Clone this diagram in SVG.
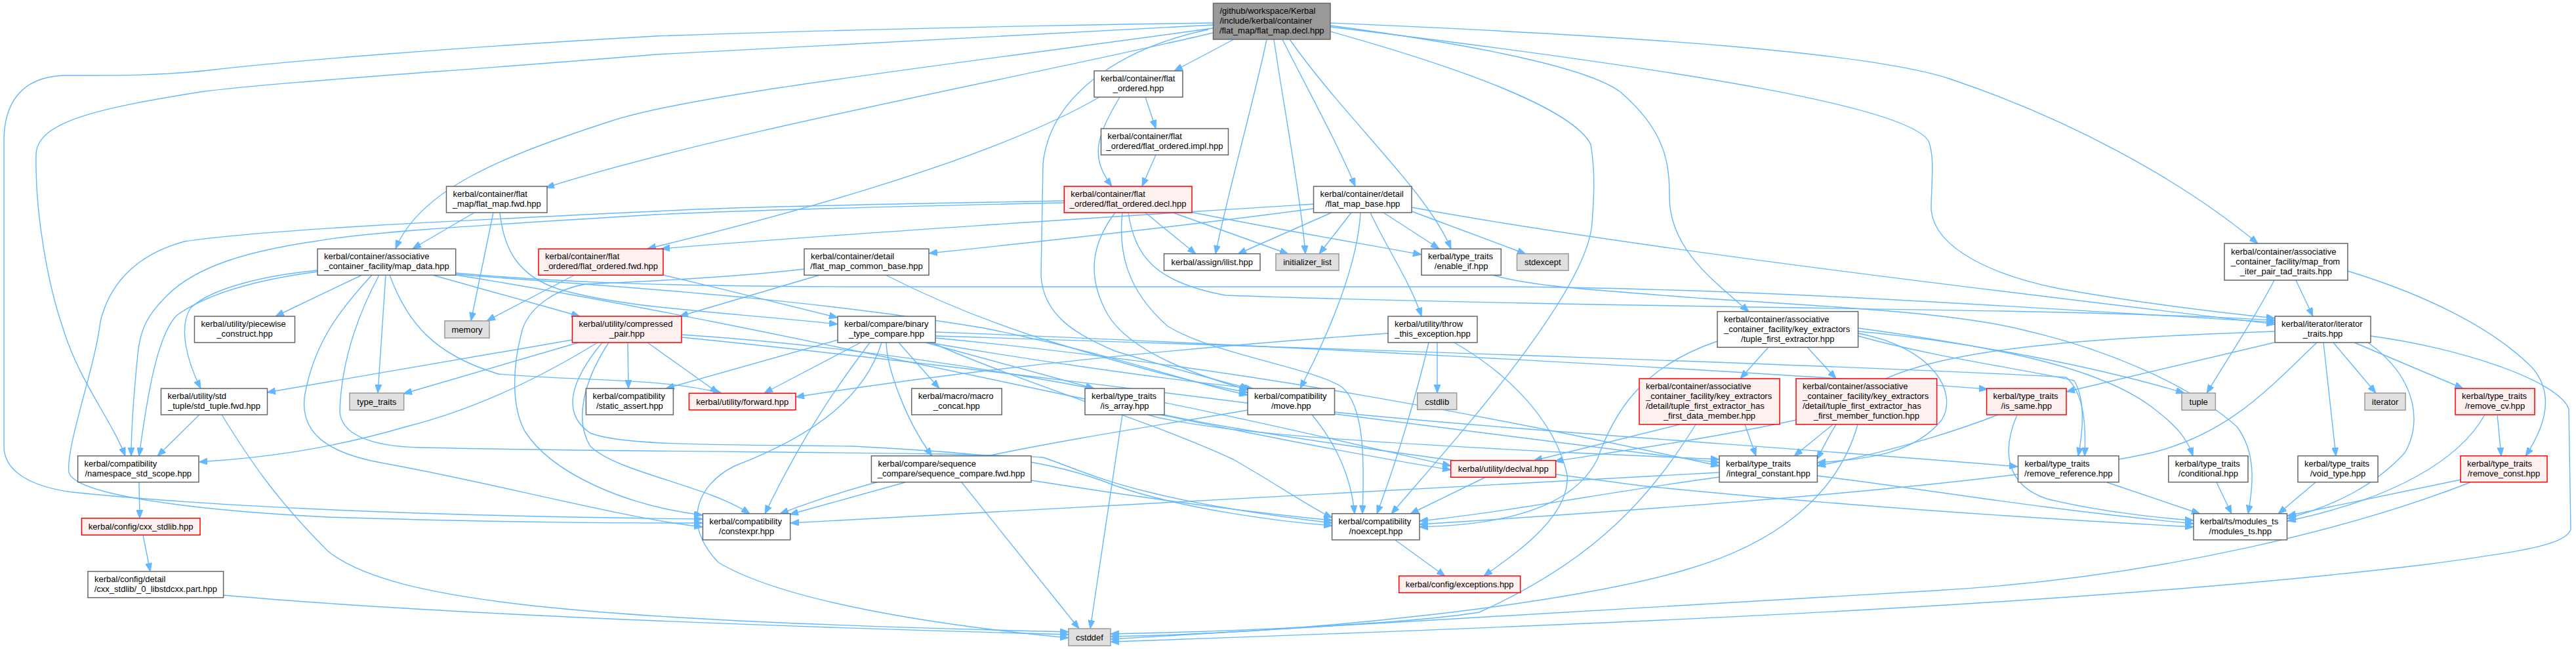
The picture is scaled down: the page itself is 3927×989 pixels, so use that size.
<svg xmlns="http://www.w3.org/2000/svg" width="3927" height="989" viewBox="0 0 3927 989">
<style>
text{font-family:"Liberation Sans",Arial,Helvetica,sans-serif;font-size:13px;fill:#000}
.c{text-anchor:middle}
rect{stroke-width:1.5}
.n rect{fill:#fff;stroke:#666}
.r rect{fill:#fff0f0;stroke:#f00}
.g rect{fill:#e0e0e0;stroke:#999}
.root rect{fill:#999;stroke:#666}
#edges path{fill:none;stroke:#63b8ff;stroke-width:1.4;marker-end:url(#a)}
</style>
<defs>
<marker id="a" markerUnits="userSpaceOnUse" markerWidth="14" markerHeight="10" refX="13" refY="5" orient="auto"><path d="M0,0 L13,5 L0,10 z" fill="#63b8ff" stroke="#63b8ff" stroke-width="1"/></marker>
</defs>
<rect width="3927" height="989" fill="#fff"/>
<g id="edges">
<path d="M1881,60 L1790,108"/>
<path d="M1931,60 C1915,140 1870,300 1853,387"/>
<path d="M1942,60 C1955,150 1983,300 1990,387"/>
<path d="M1955,60 C1990,130 2040,220 2066,284"/>
<path d="M1966,60 C2050,180 2175,290 2212,379"/>
<path d="M1849,50 C1600,110 1100,200 832,286"/>
<path d="M1849,43 C1400,105 1050,145 930,185 C760,240 640,290 603,379"/>
<path d="M1849,38 C1500,55 1200,70 1000,83 C700,108 420,125 306,140 C150,165 57,185 55,235 C53,330 75,440 96,500 C120,580 170,640 191,695"/>
<path d="M1849,35 C1500,40 1200,48 1000,55 C700,72 450,92 319,107 C240,116 160,115 96,115 C30,118 6,160 6,215 L6,680 C6,720 50,742 110,750 C400,780 800,788 1071,791"/>
<path d="M2028,35 C2500,55 2850,80 2972,120 C3150,180 3320,270 3442,371"/>
<path d="M2028,39 C2300,75 2430,110 2470,140 C2540,200 2545,250 2545,300 C2545,380 2615,430 2666,475"/>
<path d="M2028,41 C2600,110 2910,165 2940,215 C2950,240 2944,280 2944,320 C2950,380 3040,420 3140,440 C3280,465 3400,478 3468,485"/>
<path d="M2028,48 C2250,110 2400,170 2425,220 C2432,260 2430,300 2427,340 C2420,450 2200,690 2121,783"/>
<path d="M1842,45 C1700,75 1600,150 1590,250 L1587,420 C1590,480 1640,510 1700,535 C1780,560 1860,580 1904,592"/>
<path d="M1746,148 L1762,196"/>
<path d="M1707,148 C1670,210 1662,240 1695,284"/>
<path d="M1676,148 C1500,250 1150,340 987,379"/>
<path d="M1762,236 L1741,284"/>
<path d="M1746,324 L1823,387"/>
<path d="M1788,324 L1964,387"/>
<path d="M1814,323 C1950,350 2080,372 2167,388"/>
<path d="M1622,306 C1300,312 1100,316 1000,322 C700,336 400,350 281,368 C200,390 165,440 153,490 C145,560 100,680 105,720 C115,755 300,778 500,788 C800,797 950,797 1071,797"/>
<path d="M1622,309 C1300,316 1100,322 1000,327 C700,345 550,355 485,367 C380,382 300,405 255,450 C225,480 214,500 210,540 C204,600 200,650 200,695"/>
<path d="M1700,324 C1665,370 1655,420 1689,480 C1720,530 1800,565 1902,594"/>
<path d="M1711,324 C1705,380 1715,440 1780,497 C1850,540 2000,560 2046,590 C2080,620 2080,700 2077,783"/>
<path d="M1720,324 C1730,390 1760,430 1868,450 C2200,462 2700,468 3050,474 C3250,478 3400,484 3468,488"/>
<path d="M723,324 L629,379"/>
<path d="M752,324 L718,489"/>
<path d="M762,324 C768,380 790,420 850,440 C950,470 1100,475 1277,494"/>
<path d="M2002,318 C1800,345 1550,372 1416,386"/>
<path d="M2002,311 C1700,330 1300,355 1008,379"/>
<path d="M2030,324 L1887,387"/>
<path d="M2060,324 L2011,387"/>
<path d="M2109,324 L2194,379"/>
<path d="M2152,322 L2326,387"/>
<path d="M2089,324 C2115,380 2150,430 2167,482"/>
<path d="M2074,324 C2070,400 2030,500 1982,592"/>
<path d="M2152,316 C2500,380 3100,450 3468,494"/>
<path d="M552,419 L420,482"/>
<path d="M588,419 L576,599"/>
<path d="M659,419 L884,482"/>
<path d="M594,419 C620,490 660,540 760,570 C900,582 1000,575 1100,599"/>
<path d="M567,419 C520,470 480,520 465,600 C455,660 500,690 580,705 C750,735 950,790 1071,803"/>
<path d="M578,419 C540,490 520,560 518,627 C520,660 560,680 640,682 C1000,690 1450,688 1590,697 C1660,720 1720,760 2031,797"/>
<path d="M484,412 C400,420 320,440 290,470 C272,500 285,550 306,592"/>
<path d="M484,414 C400,425 320,445 270,480 C240,510 225,600 212,695"/>
<path d="M695,416 C850,430 1000,436 1300,437 L2300,437 C2700,440 3100,470 3468,491"/>
<path d="M695,418 C900,435 1200,450 1500,500 C1700,540 1800,580 1902,602"/>
<path d="M695,419 C1200,500 1800,650 2212,716"/>
<path d="M876,419 L742,489"/>
<path d="M1011,419 C1100,440 1200,465 1277,484"/>
<path d="M1250,419 L1036,482"/>
<path d="M1226,410 C1100,425 950,430 893,433 C850,440 810,465 797,500 C780,560 780,620 800,657 C840,720 950,770 1071,785"/>
<path d="M1350,419 C1450,470 1536,500 1600,520 C1700,550 1800,580 1902,598"/>
<path d="M2275,419 C2330,435 2400,440 2600,455 C2850,470 3000,480 3093,505 C3200,530 3330,580 3410,650 C3440,690 3435,740 3427,783"/>
<path d="M872,518 L407,598"/>
<path d="M882,522 L615,600"/>
<path d="M911,522 C800,590 700,630 620,650 C500,685 400,698 303,704"/>
<path d="M957,522 L958,592"/>
<path d="M987,522 L1095,599"/>
<path d="M918,522 C870,580 855,630 900,660 C950,680 1100,677 1300,680 C1500,690 1600,700 1700,740 C1800,775 1950,795 2031,801"/>
<path d="M928,522 C890,580 875,640 900,680 C940,720 1080,740 1143,783"/>
<path d="M1039,510 C1500,540 1900,640 2212,710"/>
<path d="M1039,514 C1500,560 2100,640 2621,705"/>
<path d="M1277,518 L1015,592"/>
<path d="M1312,522 L1165,599"/>
<path d="M1326,522 C1290,570 1230,650 1166,783"/>
<path d="M1344,522 C1320,600 1250,660 1120,710 C1060,740 1040,800 1095,857 C1200,920 1450,955 1629,972"/>
<path d="M1370,522 L1432,592"/>
<path d="M1351,522 C1352,560 1380,640 1421,695"/>
<path d="M1411,522 L1668,592"/>
<path d="M1415,522 C1550,545 1750,575 1910,592"/>
<path d="M1426,506 C1800,520 2600,560 3030,593"/>
<path d="M1420,522 C1550,580 1750,640 1880,700 C1950,740 2000,775 2031,789"/>
<path d="M1426,515 C1900,560 2300,640 2621,710"/>
<path d="M1426,512 C2000,530 2900,560 3150,575 C3178,600 3180,650 3178,695"/>
<path d="M2191,522 L2191,599"/>
<path d="M2178,522 C2160,600 2130,700 2099,783"/>
<path d="M2217,522 C2300,570 2370,640 2389,723 C2395,790 2300,850 2262,878"/>
<path d="M2116,508 C1800,530 1500,560 1213,605"/>
<path d="M2696,529 L2653,577"/>
<path d="M2755,529 L2799,577"/>
<path d="M2833,505 C3000,520 3200,560 3330,599"/>
<path d="M2833,508 C2950,530 2985,600 2960,640 C2920,690 2850,700 2770,705"/>
<path d="M2618,520 C2500,560 2460,630 2435,700 C2400,770 2300,800 2164,803"/>
<path d="M2833,500 C3050,530 3200,560 3280,620 C3320,650 3335,670 3343,695"/>
<path d="M2833,512 C2950,545 3100,565 3162,580 C3180,610 3175,660 3168,695"/>
<path d="M2560,647 L2338,702"/>
<path d="M2660,647 L2677,695"/>
<path d="M2585,647 C2520,750 2440,850 2255,933 C2150,950 1900,962 1693,966"/>
<path d="M2738,640 C2600,670 2450,690 2370,703"/>
<path d="M2794,647 L2735,695"/>
<path d="M2832,647 C2800,760 2700,830 2574,867 C2400,920 2000,965 1693,970"/>
<path d="M2265,727 L2150,783"/>
<path d="M2621,720 C2400,735 2000,755 1205,797"/>
<path d="M2621,727 C2450,750 2300,780 2164,794"/>
<path d="M2770,725 C2900,740 3100,775 3344,798"/>
<path d="M2127,823 L2203,878"/>
<path d="M212,735 L213,790"/>
<path d="M218,815 L229,871"/>
<path d="M341,907 C600,930 1000,950 1629,967"/>
<path d="M304,632 L240,695"/>
<path d="M338,632 C380,700 420,760 500,840 C600,920 900,945 1629,963"/>
<path d="M3467,522 L3150,597"/>
<path d="M3557,522 L3622,599"/>
<path d="M3542,522 L3561,695"/>
<path d="M3589,522 L3755,592"/>
<path d="M3610,522 C3690,580 3690,650 3666,690 C3620,740 3560,770 3487,790"/>
<path d="M3614,512 C3750,530 3900,580 3916,623 L3919,807 C3910,830 3850,840 3700,860 C3200,920 2500,950 1693,978"/>
<path d="M3532,522 C3460,590 3400,660 3280,690 C3100,730 2700,765 2164,799"/>
<path d="M3467,505 C3200,515 2950,528 2850,590 C2810,620 2790,660 2770,700"/>
<path d="M3500,427 L3526,482"/>
<path d="M3467,427 C3440,480 3400,540 3364,599"/>
<path d="M3579,413 C3700,450 3800,500 3860,560 C3895,600 3880,650 3850,695"/>
<path d="M3046,632 C3000,650 2900,685 2770,710"/>
<path d="M3075,632 C3050,690 3060,740 3120,760 C3200,780 3300,790 3344,793"/>
<path d="M3807,632 L3813,695"/>
<path d="M3788,632 C3750,700 3650,760 3487,794"/>
<path d="M3212,735 L3354,783"/>
<path d="M3379,735 L3402,783"/>
<path d="M3530,735 L3473,783"/>
<path d="M3751,731 L3487,786"/>
<path d="M3766,735 C3600,800 3300,880 2950,900 C2600,920 2100,950 1693,974"/>
<path d="M1711,632 L1662,958"/>
<path d="M1749,632 C1850,660 2100,675 2400,690 C2500,695 2580,698 2621,700"/>
<path d="M1775,632 C1900,660 2200,700 2500,740 C2800,770 3100,790 3344,803"/>
<path d="M1380,735 L1204,784"/>
<path d="M1466,735 L1645,958"/>
<path d="M1572,732 C1750,760 1900,780 2031,793"/>
<path d="M1902,625 C1700,660 1400,700 1189,783"/>
<path d="M2000,632 C2040,680 2060,730 2065,783"/>
<path d="M2034,628 C2300,655 2700,680 3076,711"/>
</g>
<g id="n1" class="root"><rect x="1849.5" y="5" width="178.5" height="55"/><text x="1859.5" y="21">/github/workspace/Kerbal</text><text x="1859.5" y="36">/include/kerbal/container</text><text class="c" x="1938.75" y="51">/flat_map/flat_map.decl.hpp</text></g>
<g id="n2" class="n"><rect x="1668" y="108" width="135" height="40"/><text x="1678" y="124">kerbal/container/flat</text><text class="c" x="1735.5" y="139">_ordered.hpp</text></g>
<g id="n3" class="n"><rect x="1678.5" y="196" width="194" height="40"/><text x="1688.5" y="212">kerbal/container/flat</text><text class="c" x="1775.5" y="227">_ordered/flat_ordered.impl.hpp</text></g>
<g id="n4" class="r"><rect x="1622.3" y="284" width="194.7" height="40"/><text x="1632.3" y="300">kerbal/container/flat</text><text class="c" x="1719.65" y="315">_ordered/flat_ordered.decl.hpp</text></g>
<g id="n5" class="n"><rect x="680.5" y="284" width="153.5" height="40"/><text x="690.5" y="300">kerbal/container/flat</text><text class="c" x="757.25" y="315">_map/flat_map.fwd.hpp</text></g>
<g id="n6" class="n"><rect x="2002.5" y="284" width="149.5" height="40"/><text x="2012.5" y="300">kerbal/container/detail</text><text class="c" x="2077.25" y="315">/flat_map_base.hpp</text></g>
<g id="n7" class="n"><rect x="484" y="379.3" width="210.7" height="40"/><text x="494" y="395.3">kerbal/container/associative</text><text class="c" x="589.35" y="410.3">_container_facility/map_data.hpp</text></g>
<g id="n8" class="r"><rect x="821" y="379.3" width="190" height="40"/><text x="831" y="395.3">kerbal/container/flat</text><text class="c" x="916" y="410.3">_ordered/flat_ordered.fwd.hpp</text></g>
<g id="n9" class="n"><rect x="1226" y="379.3" width="190" height="40"/><text x="1236" y="395.3">kerbal/container/detail</text><text class="c" x="1321" y="410.3">/flat_map_common_base.hpp</text></g>
<g id="n10" class="n"><rect x="1774.5" y="386.7" width="146.5" height="25.5"/><text class="c" x="1847.75" y="404">kerbal/assign/ilist.hpp</text></g>
<g id="n11" class="g"><rect x="1945" y="386.7" width="96" height="25.5"/><text class="c" x="1993" y="404">initializer_list</text></g>
<g id="n12" class="n"><rect x="2167" y="379.3" width="121.3" height="40"/><text x="2177" y="395.3">kerbal/type_traits</text><text class="c" x="2227.65" y="410.3">/enable_if.hpp</text></g>
<g id="n13" class="g"><rect x="2312.5" y="386.7" width="78.5" height="25.5"/><text class="c" x="2351.75" y="404">stdexcept</text></g>
<g id="n14" class="n"><rect x="3391" y="371" width="188" height="56"/><text x="3401" y="387.5">kerbal/container/associative</text><text x="3401" y="402.5">_container_facility/map_from</text><text class="c" x="3485" y="417.5">_iter_pair_tad_traits.hpp</text></g>
<g id="n15" class="n"><rect x="296.5" y="482" width="153" height="40"/><text x="306.5" y="498">kerbal/utility/piecewise</text><text class="c" x="373" y="513">_construct.hpp</text></g>
<g id="n16" class="g"><rect x="678" y="489" width="68" height="26"/><text class="c" x="712" y="506.5">memory</text></g>
<g id="n17" class="r"><rect x="872.4" y="482" width="166.6" height="40"/><text x="882.4" y="498">kerbal/utility/compressed</text><text class="c" x="955.7" y="513">_pair.hpp</text></g>
<g id="n18" class="n"><rect x="1277" y="482" width="149" height="40"/><text x="1287" y="498">kerbal/compare/binary</text><text class="c" x="1351.5" y="513">_type_compare.hpp</text></g>
<g id="n19" class="n"><rect x="2116" y="482" width="136" height="40"/><text x="2126" y="498">kerbal/utility/throw</text><text class="c" x="2184" y="513">_this_exception.hpp</text></g>
<g id="n20" class="n"><rect x="2618" y="474.7" width="214.6" height="54.6"/><text x="2628" y="490.5">kerbal/container/associative</text><text x="2628" y="505.5">_container_facility/key_extractors</text><text class="c" x="2725.3" y="520.5">/tuple_first_extractor.hpp</text></g>
<g id="n21" class="n"><rect x="3468" y="482" width="146" height="40"/><text x="3478" y="498">kerbal/iterator/iterator</text><text class="c" x="3541" y="513">_traits.hpp</text></g>
<g id="n22" class="n"><rect x="245.5" y="592" width="162" height="40"/><text x="255.5" y="608">kerbal/utility/std</text><text class="c" x="326.5" y="623">_tuple/std_tuple.fwd.hpp</text></g>
<g id="n23" class="g"><rect x="533" y="599" width="82.7" height="26"/><text class="c" x="574.35" y="616.5">type_traits</text></g>
<g id="n24" class="n"><rect x="893.4" y="592" width="133" height="40"/><text x="903.4" y="608">kerbal/compatibility</text><text class="c" x="959.9" y="623">/static_assert.hpp</text></g>
<g id="n25" class="r"><rect x="1050.4" y="599.3" width="162.6" height="25.4"/><text class="c" x="1131.7" y="616.5">kerbal/utility/forward.hpp</text></g>
<g id="n26" class="n"><rect x="1389.7" y="592" width="137.5" height="40"/><text x="1399.7" y="608">kerbal/macro/macro</text><text class="c" x="1458.45" y="623">_concat.hpp</text></g>
<g id="n27" class="n"><rect x="1654" y="592" width="121" height="40"/><text x="1664" y="608">kerbal/type_traits</text><text class="c" x="1714.5" y="623">/is_array.hpp</text></g>
<g id="n28" class="n"><rect x="1902" y="592" width="132.5" height="40"/><text x="1912" y="608">kerbal/compatibility</text><text class="c" x="1968.25" y="623">/move.hpp</text></g>
<g id="n29" class="g"><rect x="2160.7" y="598.7" width="60" height="25.6"/><text class="c" x="2190.7" y="616.5">cstdlib</text></g>
<g id="n30" class="r"><rect x="2499" y="577" width="214" height="69.7"/><text x="2509" y="592.85">kerbal/container/associative</text><text x="2509" y="607.85">_container_facility/key_extractors</text><text x="2509" y="622.85">/detail/tuple_first_extractor_has</text><text class="c" x="2606" y="637.85">_first_data_member.hpp</text></g>
<g id="n31" class="r"><rect x="2738" y="577" width="214.6" height="69.7"/><text x="2748" y="592.85">kerbal/container/associative</text><text x="2748" y="607.85">_container_facility/key_extractors</text><text x="2748" y="622.85">/detail/tuple_first_extractor_has</text><text class="c" x="2845.3" y="637.85">_first_member_function.hpp</text></g>
<g id="n32" class="r"><rect x="3028.5" y="592" width="121.5" height="40"/><text x="3038.5" y="608">kerbal/type_traits</text><text class="c" x="3089.25" y="623">/is_same.hpp</text></g>
<g id="n33" class="g"><rect x="3326" y="599" width="51.4" height="26"/><text class="c" x="3351.7" y="616.5">tuple</text></g>
<g id="n34" class="g"><rect x="3605" y="599" width="62" height="26"/><text class="c" x="3636" y="616.5">iterator</text></g>
<g id="n35" class="r"><rect x="3743" y="592" width="121" height="40"/><text x="3753" y="608">kerbal/type_traits</text><text class="c" x="3803.5" y="623">/remove_cv.hpp</text></g>
<g id="n36" class="n"><rect x="118.6" y="694.7" width="184.4" height="40"/><text x="128.6" y="710.7">kerbal/compatibility</text><text class="c" x="210.8" y="725.7">/namespace_std_scope.hpp</text></g>
<g id="n37" class="n"><rect x="1328.4" y="694.7" width="243.6" height="40"/><text x="1338.4" y="710.7">kerbal/compare/sequence</text><text class="c" x="1450.2" y="725.7">_compare/sequence_compare.fwd.hpp</text></g>
<g id="n38" class="r"><rect x="2211.7" y="701.7" width="160" height="25.6"/><text class="c" x="2291.7" y="719">kerbal/utility/declval.hpp</text></g>
<g id="n39" class="n"><rect x="2621" y="694.7" width="149.4" height="40"/><text x="2631" y="710.7">kerbal/type_traits</text><text class="c" x="2695.7" y="725.7">/integral_constant.hpp</text></g>
<g id="n40" class="n"><rect x="3076.5" y="694.7" width="153.5" height="40"/><text x="3086.5" y="710.7">kerbal/type_traits</text><text class="c" x="3153.25" y="725.7">/remove_reference.hpp</text></g>
<g id="n41" class="n"><rect x="3305.8" y="694.7" width="121.2" height="40"/><text x="3315.8" y="710.7">kerbal/type_traits</text><text class="c" x="3366.4" y="725.7">/conditional.hpp</text></g>
<g id="n42" class="n"><rect x="3503" y="694.7" width="122" height="40"/><text x="3513" y="710.7">kerbal/type_traits</text><text class="c" x="3564" y="725.7">/void_type.hpp</text></g>
<g id="n43" class="r"><rect x="3751" y="694.7" width="132" height="40"/><text x="3761" y="710.7">kerbal/type_traits</text><text class="c" x="3817" y="725.7">/remove_const.hpp</text></g>
<g id="n44" class="n"><rect x="1071.4" y="782.7" width="133.3" height="40"/><text x="1081.4" y="798.7">kerbal/compatibility</text><text class="c" x="1138.05" y="813.7">/constexpr.hpp</text></g>
<g id="n45" class="n"><rect x="2030.6" y="782.7" width="133.4" height="40"/><text x="2040.6" y="798.7">kerbal/compatibility</text><text class="c" x="2097.3" y="813.7">/noexcept.hpp</text></g>
<g id="n46" class="n"><rect x="3344" y="782.7" width="142.5" height="40"/><text x="3354" y="798.7">kerbal/ts/modules_ts</text><text class="c" x="3415.25" y="813.7">/modules_ts.hpp</text></g>
<g id="n47" class="r"><rect x="124.4" y="789.7" width="180.6" height="25.6"/><text class="c" x="214.7" y="807">kerbal/config/cxx_stdlib.hpp</text></g>
<g id="n48" class="r"><rect x="2132.7" y="877.7" width="185" height="25.6"/><text class="c" x="2225.2" y="895">kerbal/config/exceptions.hpp</text></g>
<g id="n49" class="n"><rect x="134" y="870.7" width="206.6" height="40"/><text x="144" y="886.7">kerbal/config/detail</text><text class="c" x="237.3" y="901.7">/cxx_stdlib/_0_libstdcxx.part.hpp</text></g>
<g id="n50" class="g"><rect x="1629" y="958" width="64" height="26"/><text class="c" x="1661" y="975.5">cstddef</text></g>
</svg>
